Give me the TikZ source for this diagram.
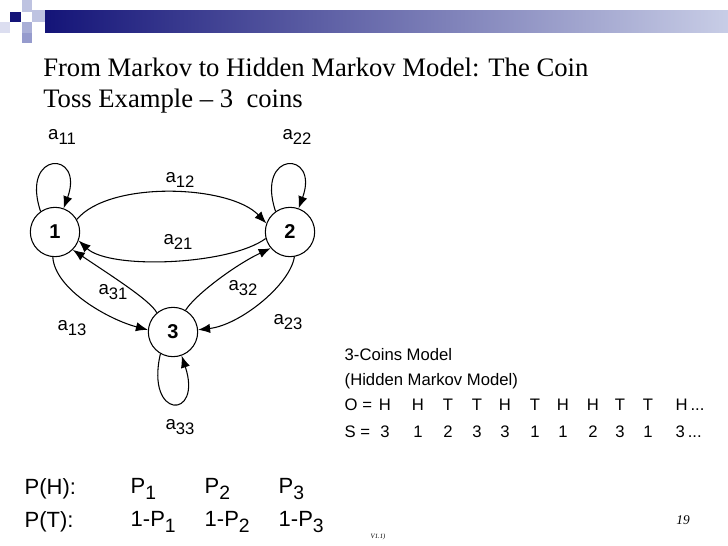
\documentclass[tikz,border=0pt]{standalone}
\usepackage{fontspec}
\setmainfont{Liberation Sans}
\newfontfamily\tms{Liberation Serif}
\usetikzlibrary{arrows.meta}
\definecolor{navy}{RGB}{20,20,120}
\definecolor{lav}{RGB}{200,205,230}
\definecolor{sqa}{RGB}{190,195,225}
\definecolor{sqb}{RGB}{170,175,215}
\definecolor{sqc}{RGB}{220,222,240}
\definecolor{sqd}{RGB}{150,155,205}
\newcommand{\sbs}[1]{\raisebox{-0.45ex}{\fontsize{12.5}{12.5}\selectfont #1}}
\newcommand{\sbb}[1]{\raisebox{-0.45ex}{\fontsize{14.5}{14.5}\selectfont #1}}
\begin{document}
\begin{tikzpicture}[x=0.75pt,y=-0.75pt,
  st/.style={circle,draw,line width=0.8pt,minimum size=37pt,inner sep=0pt,font=\fontsize{15}{15}\selectfont\bfseries},
  lab/.style={font=\fontsize{14}{14}\selectfont},
  ed/.style={line width=0.8pt,-{Latex[length=9pt,width=7pt]}},
  txt/.style={font=\fontsize{12.5}{12.5}\selectfont,anchor=west},
  big/.style={font=\fontsize{16.5}{16.5}\selectfont,anchor=west}]
\useasboundingbox[fill=white] (0,0) rectangle (728,546);
% header
\shade[left color=navy, right color=lav] (45,10) rectangle (728,32);
\fill[sqa] (22,0) rectangle (32,12);
\fill[navy] (10,12) rectangle (21,22);
\fill[sqa] (32,10) rectangle (45,22);
\fill[sqb] (22,22) rectangle (32,33);
\fill[sqc] (0,22) rectangle (10,33);
\fill[sqd] (22,33) rectangle (32,43);
\node[anchor=base west,font=\tms\fontsize{20}{20}\selectfont,inner sep=0pt] (title) at (43,76) {From Markov to Hidden Markov Model: The Coin};
\node[anchor=base west,font=\tms\fontsize{20}{20}\selectfont,inner sep=0pt] (title2) at (43,107) {Toss Example – 3\ \ coins};
% states
\node[st] (n1) at (55,232) {1};
\node[st] (n2) at (290,232) {2};
\node[st] (n3) at (173,332) {3};
\draw[ed] (n1.125) .. controls (20,150) and (85,150) .. (n1.70);
\draw[ed] (n2.125) .. controls (255,150) and (320,150) .. (n2.70);
\draw[ed] (n3.-120) .. controls (145,420) and (203,420) .. (n3.-70);
\draw[ed] (n1.30) .. controls (110,180) and (230,185) .. (n2.160);
\draw[ed] (n2.-165) .. controls (230,265) and (110,270) .. (n1.-20);
\draw[ed] (n1.-95) .. controls (55,290) and (110,320) .. (n3.175);
\draw[ed] (n3.130) .. controls (150,300) and (110,275) .. (n1.-45);
\draw[ed] (n3.60) .. controls (195,295) and (235,265) .. (n2.-140);
\draw[ed] (n2.-80) .. controls (290,285) and (240,325) .. (n3.5);
\node[lab] (l11) at (62,137) {a\sbs{11}};
\node[lab] (l22) at (297,137) {a\sbs{22}};
\node[lab] (l12) at (180,180) {a\sbs{12}};
\node[lab] (l21) at (178,242) {a\sbs{21}};
\node[lab] (l31) at (113,292) {a\sbs{31}};
\node[lab] (l32) at (243,288) {a\sbs{32}};
\node[lab] (l13) at (72,328) {a\sbs{13}};
\node[lab] (l23) at (288,322) {a\sbs{23}};
\node[lab] (l33) at (180,427) {a\sbs{33}};
% right text
\node[txt] (t1) at (340,355) {3-Coins Model};
\node[txt] (t2) at (340,381) {(Hidden Markov Model)};
\node[txt] (t3) at (340,405) {O =};
\node[txt] (t4) at (340,432) {S =};
\foreach \x/\o/\s [count=\i] in {385/H/3,418/H/1,448/T/2,477/T/3,505/H/3,535/T/1,563/H/1,593/H/2,620/T/3,648/T/1}{
  \node[font=\fontsize{12.5}{12.5}\selectfont] (o\i) at (\x,405) {\o};
  \node[font=\fontsize{12.5}{12.5}\selectfont] (s\i) at (\x,432) {\s};
}
\node[txt] (o11) at (671,405) {H\,...};
\node[txt] (s11) at (671,432) {3\,...};
% bottom
\node[big] (ph) at (20,489) {P(H):};
\node[big] (pt) at (20,522) {P(T):};
\node[big] (p1) at (126,489) {P\sbb{1}};
\node[big] (p2) at (200,489) {P\sbb{2}};
\node[big] (p3) at (274,489) {P\sbb{3}};
\node[big] (q1) at (126,522) {1-P\sbb{1}};
\node[big] (q2) at (200,522) {1-P\sbb{2}};
\node[big] (q3) at (274,522) {1-P\sbb{3}};
\node[font=\tms\itshape\fontsize{10}{10}\selectfont] (pg) at (683,520) {19};
\node[font=\tms\itshape\fontsize{5}{5}\selectfont] (v) at (378,537) {V1.1)};
\end{tikzpicture}
\end{document}
